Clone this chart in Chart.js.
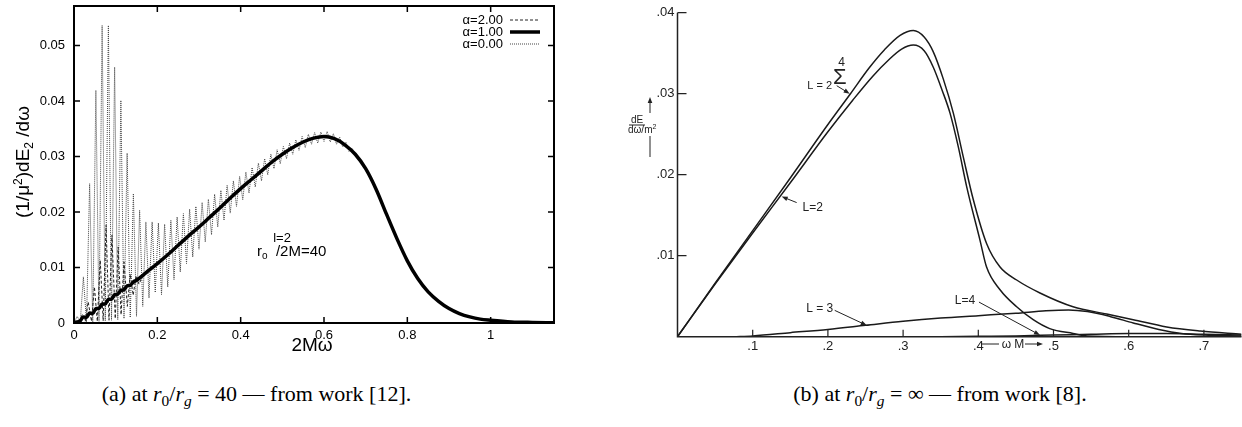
<!DOCTYPE html>
<html><head><meta charset="utf-8">
<script src="https://cdn.jsdelivr.net/npm/chart.js@4.4.1/dist/chart.umd.min.js"></script>
<style>
html,body{margin:0;padding:0;background:#fff;}
body{width:1242px;height:427px;position:relative;overflow:hidden;}
canvas{position:absolute;top:0;}
#ca{left:0;}
#cb{left:600px;}
.cap{position:absolute;top:381px;font-family:"Liberation Serif","DejaVu Serif",serif;font-size:22px;color:#000;text-align:center;white-space:nowrap;}
.cap sub{font-size:70%;vertical-align:-0.3em;line-height:0;}
</style></head>
<body>
<canvas id="ca" width="580" height="360"></canvas>
<canvas id="cb" width="642" height="360"></canvas>
<div class="cap" style="left:0;width:513px">(a) at <i>r</i><sub>0</sub>/<i>r<sub>g</sub></i> = 40 — from work [12].</div>
<div class="cap" style="left:640px;width:600px">(b) at <i>r</i><sub>0</sub>/<i>r<sub>g</sub></i> = ∞ — from work [8].</div>
<script>
// ---------- Panel (a) data ----------
const aXTicks = [0, 0.2, 0.4, 0.6, 0.8, 1];
const aXTickLabels = ['0', '0.2', '0.4', '0.6', '0.8', '1'];
const aYTicks = [0, 0.01, 0.02, 0.03, 0.04, 0.05];
const aYTickLabels = ['0', '0.01', '0.02', '0.03', '0.04', '0.05'];
const aLabels = ['α=1.00', 'α=2.00', 'α=0.00'];

const aSolidX = [0,0.0075,0.015,0.0225,0.03,0.0375,0.045,0.0525,0.06,0.0675,0.075,0.0825,0.09,0.0975,0.105,0.1125,0.12,0.1275,0.135,0.1425,0.15,0.175,0.2,0.225,0.25,0.275,0.3,0.325,0.35,0.375,0.4,0.425,0.45,0.475,0.5,0.525,0.55,0.575,0.6,0.625,0.65,0.675,0.7,0.725,0.75,0.775,0.8,0.825,0.85,0.875,0.9,0.925,0.95,0.975,1.0,1.05,1.1,1.15];
const aSolidY = [0,0.0002,0.0004,0.0011,0.0010,0.0018,0.0017,0.0026,0.0026,0.0034,0.0034,0.0043,0.0043,0.0051,0.0052,0.0059,0.0060,0.0067,0.0068,0.0074,0.0077,0.0092,0.0107,0.0123,0.0140,0.0157,0.0173,0.0190,0.0207,0.0225,0.0242,0.0258,0.0274,0.0290,0.0304,0.0316,0.0326,0.0333,0.0336,0.0332,0.0321,0.0304,0.0278,0.0241,0.0196,0.0152,0.0112,0.0080,0.0056,0.0039,0.0026,0.0017,0.0011,0.0007,0.0005,0.0002,0.0001,0.00005];

const aDashX = [0,0.012,0.02,0.027,0.034,0.042,0.049,0.056,0.063,0.07,0.077,0.084,0.091,0.099,0.106,0.113,0.12,0.128,0.135,0.142,0.149,0.156,0.165,0.175,0.2,0.225,0.25,0.275,0.3,0.325,0.35,0.375,0.4,0.425,0.45,0.475,0.5,0.525,0.55,0.575,0.6,0.625,0.65,0.675,0.7,0.725,0.75,0.775,0.8,0.825,0.85,0.875,0.9,0.925,0.95,0.975,1.0,1.05,1.1,1.15];
const aDashY = [0,0.0003,0.0015,0.0003,0.0038,0.0003,0.0065,0.0003,0.0113,0.0004,0.0176,0.0005,0.0158,0.0008,0.0137,0.0015,0.0110,0.0030,0.0088,0.0050,0.0085,0.0070,0.0085,0.0092,0.0107,0.0123,0.0140,0.0157,0.0173,0.0190,0.0207,0.0225,0.0242,0.0258,0.0274,0.0290,0.0304,0.0316,0.0326,0.0333,0.0336,0.0332,0.0321,0.0304,0.0278,0.0241,0.0196,0.0152,0.0112,0.0080,0.0056,0.0039,0.0026,0.0017,0.0011,0.0007,0.0005,0.0002,0.0001,0.00005];

const aDotX = [0,0.0075,0.015,0.0225,0.03,0.0375,0.045,0.0525,0.06,0.0675,0.075,0.0825,0.09,0.0975,0.105,0.1125,0.12,0.1275,0.135,0.1425,0.15,0.1575,0.165,0.1725,0.18,0.1875,0.195,0.2025,
0.21,0.2175,0.225,0.2325,0.24,0.2475,0.255,0.2625,0.27,0.2775,0.285,0.2925,0.3,0.3075,0.315,0.3225,0.33,0.3375,0.345,0.3525,0.36,0.3675,0.375,0.3825,0.39,0.3975,0.405,0.4125,0.42,0.4275,0.435,0.4425,0.45,0.4575,0.465,0.4725,0.48,0.4875,0.495,0.5025,0.51,0.5175,0.525,0.5325,0.54,0.5475,0.555,0.5625,0.57,0.5775,0.585,0.5925,0.6,0.6075,0.615,0.6225,0.63,0.6375,0.645,0.6525,0.66,0.6675,0.675,
0.7,0.725,0.75,0.775,0.8,0.825,0.85,0.875,0.9,0.925,0.95,0.975,1.0,1.05,1.1,1.15];
const aDotY = [0,0.0012,0.0002,0.0083,0.0002,0.0251,0.0002,0.0419,0.0003,0.0536,0.0004,0.0536,0.0005,0.0461,0.0006,0.0401,0.0008,0.0306,0.0010,0.0233,0.0012,0.0203,0.0030,0.0182,0.0045,0.0182,0.0055,0.0180,
0.0051,0.0178,0.0065,0.0185,0.0078,0.0191,0.0092,0.0197,0.0107,0.0205,0.0119,0.0210,0.0133,0.0217,0.0146,0.0223,0.0159,0.0232,0.0173,0.0239,0.0185,0.0248,0.0198,0.0256,0.0210,0.0264,0.0222,0.0272,0.0234,0.0280,0.0245,0.0288,0.0256,0.0296,0.0267,0.0304,0.0278,0.0312,0.0287,0.0318,0.0296,0.0324,0.0304,0.0330,0.0311,0.0336,0.0316,0.0340,0.0322,0.0343,0.0324,0.0344,0.0327,0.0345,0.0326,0.0341,0.0322,0.0335,0.0317,0.0326,0.0309,0.0315,0.0302,
0.0278,0.0241,0.0196,0.0152,0.0112,0.0080,0.0056,0.0039,0.0026,0.0017,0.0011,0.0007,0.0005,0.0002,0.0001,0.00005];

// ---------- Panel (b) data ----------
const bXTicks = [0.1, 0.2, 0.3, 0.4, 0.5, 0.6, 0.7];
const bXTickLabels = ['.1', '.2', '.3', '.4', '.5', '.6', '.7'];
const bYTicks = [0.01, 0.02, 0.03, 0.04];
const bYTickLabels = ['.01', '.02', '.03', '.04'];

const bSumX = [0,0.05,0.1,0.15,0.2,0.23,0.255,0.275,0.296,0.3136,0.328,0.34,0.3535,0.3668,0.38,0.3934,0.411,0.4289,0.451,0.482,0.526,0.5707,0.606,0.6505,0.695,0.75];
const bSumY = [0,0.0066,0.0131,0.0196,0.0262,0.0300,0.0332,0.0354,0.0372,0.0378,0.0370,0.0352,0.0318,0.0276,0.0222,0.0169,0.0115,0.0086,0.0070,0.0054,0.0037,0.0028,0.0021,0.0012,0.0007,0.0003];
const bL2X = [0,0.05,0.1,0.15,0.2,0.233,0.26,0.28,0.298,0.3136,0.328,0.34,0.352,0.3624,0.3735,0.3846,0.4023,0.411,0.4289,0.451,0.473,0.495,0.526,0.545,0.6,0.7];
const bL2Y = [0,0.0065,0.0128,0.0190,0.0253,0.0292,0.0322,0.0341,0.0355,0.0360,0.0353,0.0333,0.0304,0.0276,0.0234,0.0185,0.0119,0.0086,0.0058,0.0037,0.0021,0.0010,0.0004,0.0001,0,0];
const bL3X = [0.075,0.1,0.15,0.2,0.25,0.3,0.35,0.4,0.45,0.49,0.52,0.545,0.575,0.606,0.64,0.67,0.7,0.75];
const bL3Y = [0,0.0001,0.0005,0.0009,0.0014,0.0019,0.0023,0.0026,0.0029,0.0032,0.0033,0.0031,0.0025,0.0017,0.0009,0.0004,0.0002,0.0001];
const bL4X = [0.35,0.4,0.45,0.5,0.55,0.6,0.65,0.7,0.75];
const bL4Y = [0,0.00005,0.0001,0.0002,0.0003,0.0004,0.0004,0.0003,0.0002];

// ---------- helpers ----------
const SANS = '"Liberation Sans", Arial, sans-serif';
Chart.defaults.font.family = SANS;
Chart.defaults.color = '#000';
const pts = (xs, ys) => xs.map((x, i) => ({x: x, y: ys[i]}));
const setTicks = vals => s => { s.ticks = vals.map(v => ({value: v})); };
const fixBox = (prop, val) => s => { s[prop] = val; s.paddingTop = 0; s.paddingBottom = 0; s.paddingLeft = 0; s.paddingRight = 0; };

function rich(ctx, segs, x, y, align) {
  let w = 0;
  segs.forEach(s => { ctx.font = s.size + 'px ' + (s.fam || SANS); w += ctx.measureText(s.t).width; });
  let cx = align === 'center' ? x - w / 2 : (align === 'right' ? x - w : x);
  ctx.textAlign = 'left'; ctx.textBaseline = 'alphabetic';
  segs.forEach(s => { ctx.font = s.size + 'px ' + (s.fam || SANS); ctx.fillText(s.t, cx, y + (s.dy || 0)); cx += ctx.measureText(s.t).width; });
}
function arrow(ctx, x1, y1, x2, y2) {
  const ang = Math.atan2(y2 - y1, x2 - x1), L = 6, H = 2.3;
  ctx.beginPath(); ctx.moveTo(x1, y1); ctx.lineTo(x2 - Math.cos(ang) * L * 0.7, y2 - Math.sin(ang) * L * 0.7); ctx.stroke();
  ctx.beginPath(); ctx.moveTo(x2, y2);
  ctx.lineTo(x2 - Math.cos(ang) * L - Math.sin(ang) * H, y2 - Math.sin(ang) * L + Math.cos(ang) * H);
  ctx.lineTo(x2 - Math.cos(ang) * L + Math.sin(ang) * H, y2 - Math.sin(ang) * L - Math.cos(ang) * H);
  ctx.closePath(); ctx.fill();
}

// ---------- Panel (a) ----------
const plugA = {
  id: 'plugA',
  afterDatasetsDraw(c) {
    const ctx = c.ctx, a = c.chartArea, X = c.scales.x, Y = c.scales.y;
    ctx.save();
    ctx.strokeStyle = '#000'; ctx.lineWidth = 1.5; ctx.setLineDash([]);
    ctx.beginPath();
    aXTicks.forEach(v => { const p = X.getPixelForValue(v); ctx.moveTo(p, a.bottom); ctx.lineTo(p, a.bottom - 6); ctx.moveTo(p, a.top); ctx.lineTo(p, a.top + 6); });
    aYTicks.forEach(v => { const p = Y.getPixelForValue(v); ctx.moveTo(a.left, p); ctx.lineTo(a.left + 6, p); ctx.moveTo(a.right, p); ctx.lineTo(a.right - 6, p); });
    ctx.stroke();
    ctx.lineWidth = 2; ctx.strokeRect(a.left, a.top, a.right - a.left, a.bottom - a.top);
    // legend (gnuplot style, order alpha=2, 1, 0)
    const ds = c.data.datasets;
    [1, 0, 2].forEach((di, k) => {
      const d = ds[di], y = a.top + 14 + k * 12;
      ctx.fillStyle = '#000'; ctx.font = '13px ' + SANS; ctx.textAlign = 'right'; ctx.textBaseline = 'middle';
      ctx.fillText(d.label, a.right - 51, y);
      ctx.strokeStyle = d.borderColor; ctx.lineWidth = d.borderWidth; ctx.setLineDash(d.borderDash || []);
      ctx.beginPath(); ctx.moveTo(a.right - 44, y); ctx.lineTo(a.right - 14, y); ctx.stroke();
    });
    ctx.setLineDash([]);
    ctx.fillStyle = '#000';
    // annotation
    rich(ctx, [{t: 'l=2', size: 13}], 282, 242, 'center');
    rich(ctx, [{t: 'r', size: 15}, {t: 'o', size: 10, dy: 3}, {t: '  /2M=40', size: 15}], 257, 256, 'left');
    // axis titles
    rich(ctx, [{t: '2Mω', size: 19}], (a.left + a.right) / 2 - 2, 351, 'center');
    ctx.save(); ctx.translate(29, 162); ctx.rotate(-Math.PI / 2);
    rich(ctx, [{t: '(1/μ', size: 19}, {t: '2', size: 12, dy: -7}, {t: ')dE', size: 19}, {t: '2', size: 12, dy: 4}, {t: ' /dω', size: 19}], 0, 0, 'center');
    ctx.restore();
    ctx.restore();
  }
};

new Chart(document.getElementById('ca'), {
  type: 'line',
  data: {datasets: [
    {label: aLabels[0], data: pts(aSolidX, aSolidY), borderColor: '#000', borderWidth: 3.5, pointRadius: 0, cubicInterpolationMode: 'monotone'},
    {label: aLabels[1], data: pts(aDashX, aDashY), borderColor: '#222', borderWidth: 1, borderDash: [3, 2], pointRadius: 0, tension: 0},
    {label: aLabels[2], data: pts(aDotX, aDotY), borderColor: '#444', borderWidth: 1, borderDash: [1, 1], pointRadius: 0, tension: 0}
  ]},
  options: {
    responsive: false, animation: false, events: [],
    layout: {padding: {left: 0, right: 26, top: 6, bottom: 0}},
    plugins: {legend: {display: false}, tooltip: {enabled: false}},
    scales: {
      x: {type: 'linear', min: 0, max: 1.152, afterBuildTicks: setTicks(aXTicks), afterFit: fixBox('height', 37),
          grid: {display: false, drawTicks: false}, border: {display: false},
          ticks: {callback: (v, i) => aXTickLabels[i], autoSkip: false, maxRotation: 0, padding: 5, font: {size: 13}, color: '#000'}},
      y: {type: 'linear', min: 0, max: 0.0571, afterBuildTicks: setTicks(aYTicks), afterFit: fixBox('width', 74),
          grid: {display: false, drawTicks: false}, border: {display: false},
          ticks: {callback: (v, i) => aYTickLabels[i], autoSkip: false, padding: 9, font: {size: 13}, color: '#000'}}
    }
  },
  plugins: [plugA]
});

// ---------- Panel (b) ----------
const plugB = {
  id: 'plugB',
  afterDatasetsDraw(c) {
    const ctx = c.ctx, a = c.chartArea, X = c.scales.x, Y = c.scales.y;
    const P = (x, y) => [X.getPixelForValue(x), Y.getPixelForValue(y)];
    ctx.save();
    ctx.strokeStyle = '#222'; ctx.fillStyle = '#222'; ctx.lineWidth = 1.5;
    ctx.beginPath(); ctx.moveTo(a.left, a.top); ctx.lineTo(a.left, a.bottom); ctx.lineTo(a.right, a.bottom); ctx.stroke();
    ctx.lineWidth = 1.2; ctx.beginPath();
    bYTicks.forEach(v => { const p = Y.getPixelForValue(v); ctx.moveTo(a.left, p); ctx.lineTo(a.left + 9, p); });
    bXTicks.forEach(v => { const p = X.getPixelForValue(v); ctx.moveTo(p, a.bottom); ctx.lineTo(p, a.bottom - 7); });
    ctx.stroke();
    ctx.lineWidth = 1;
    // Sum label
    let t = P(0.229, 0.0300);
    arrow(ctx, t[0] - 13, t[1] - 8, t[0], t[1]);
    rich(ctx, [{t: 'L = 2', size: 11}], t[0] - 30, t[1] - 5, 'center');
    rich(ctx, [{t: 'Σ', size: 22}], t[0] - 10, t[1] - 10, 'center');
    rich(ctx, [{t: '4', size: 12}], t[0] - 8, t[1] - 28, 'center');
    // L=2
    t = P(0.1385, 0.0173);
    arrow(ctx, t[0] + 15, t[1] + 6, t[0], t[1]);
    rich(ctx, [{t: 'L=2', size: 12}], t[0] + 31, t[1] + 14, 'center');
    // L=3
    t = P(0.2516, 0.0014);
    arrow(ctx, t[0] - 32, t[1] - 15, t[0], t[1]);
    rich(ctx, [{t: 'L = 3', size: 12}], t[0] - 47, t[1] - 13, 'center');
    // L=4
    t = P(0.482, 0.0002);
    arrow(ctx, t[0] - 61, t[1] - 33, t[0], t[1]);
    rich(ctx, [{t: 'L=4', size: 12}], t[0] - 75, t[1] - 31, 'center');
    // y label
    rich(ctx, [{t: 'dE', size: 10}], 37, 123, 'center');
    ctx.beginPath(); ctx.moveTo(29, 125); ctx.lineTo(45, 125); ctx.stroke();
    rich(ctx, [{t: 'dω', size: 10}, {t: '/m', size: 10}, {t: '2', size: 7, dy: -4}], 28, 133, 'left');
    arrow(ctx, 50, 113, 50, 97);
    ctx.beginPath(); ctx.moveTo(50, 136); ctx.lineTo(50, 157); ctx.stroke();
    // x label
    ctx.beginPath(); ctx.moveTo(381, 344); ctx.lineTo(399, 344); ctx.stroke();
    rich(ctx, [{t: 'ω M', size: 12}], 413, 348, 'center');
    arrow(ctx, 425, 344, 443, 344);
    ctx.restore();
  }
};

const bLine = {borderColor: '#1a1a1a', borderWidth: 1.5, pointRadius: 0, cubicInterpolationMode: 'monotone'};
new Chart(document.getElementById('cb'), {
  type: 'line',
  data: {datasets: [
    Object.assign({label: 'Σ L=2..4', data: pts(bSumX, bSumY)}, bLine),
    Object.assign({label: 'L=2', data: pts(bL2X, bL2Y)}, bLine),
    Object.assign({label: 'L=3', data: pts(bL3X, bL3Y)}, bLine),
    Object.assign({label: 'L=4', data: pts(bL4X, bL4Y)}, bLine)
  ]},
  options: {
    responsive: false, animation: false, events: [],
    layout: {padding: {left: 0, right: 0.5, top: 12.7, bottom: 0}},
    plugins: {legend: {display: false}, tooltip: {enabled: false}},
    scales: {
      x: {type: 'linear', min: 0, max: 0.75, afterBuildTicks: setTicks(bXTicks), afterFit: fixBox('height', 23.3),
          grid: {display: false, drawTicks: false}, border: {display: false},
          ticks: {callback: (v, i) => bXTickLabels[i], autoSkip: false, maxRotation: 0, padding: 2, font: {size: 13}, color: '#222'}},
      y: {type: 'linear', min: 0, max: 0.04, afterBuildTicks: setTicks(bYTicks), afterFit: fixBox('width', 77.5),
          grid: {display: false, drawTicks: false}, border: {display: false},
          ticks: {callback: (v, i) => bYTickLabels[i], autoSkip: false, padding: 3, font: {size: 13}, color: '#222'}}
    }
  },
  plugins: [plugB]
});
</script>
</body></html>
